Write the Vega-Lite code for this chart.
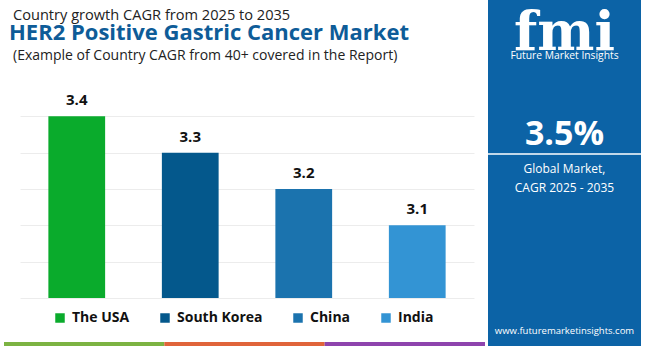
{
  "$schema": "https://vega.github.io/schema/vega-lite/v6.json",
  "padding": 0,
  "background": "white",
  "spacing": 2,
  "config": {"view": {"stroke": null}, "font": "Open Sans"},
  "hconcat": [
    {
      "spacing": 17,
      "resolve": {"scale": {"color": "independent", "x": "independent", "y": "independent"}, "legend": {"color": "independent"}},
      "vconcat": [
        {
          "width": 465,
          "height": 62,
          "data": {"values": [
            {"line": "l1", "label": "Country growth CAGR from 2025 to 2035"},
            {"line": "l2", "label": "HER2 Positive Gastric Cancer Market"},
            {"line": "l3", "label": "(Example of Country CAGR from 40+ covered in the Report)"}
          ]},
          "encoding": {
            "x": {"datum": 0, "type": "quantitative", "scale": {"domain": [0, 1]}, "axis": null},
            "y": {"field": "line", "type": "nominal", "axis": null, "scale": {"type": "point", "padding": 0, "domain": ["l1", "l2", "l3"], "range": [20, 59.5]}},
            "text": {"field": "label"}
          },
          "layer": [
            {"transform": [{"filter": "datum.line === 'l1'"}], "mark": {"type": "text", "align": "left", "baseline": "alphabetic", "dx": -7, "fontSize": 14.6, "color": "#222222"}},
            {"transform": [{"filter": "datum.line === 'l3'"}], "mark": {"type": "text", "align": "left", "baseline": "alphabetic", "dx": -7, "fontSize": 14, "color": "#222222"}},
            {"transform": [{"filter": "datum.line === 'l2'"}], "mark": {"type": "text", "align": "left", "baseline": "alphabetic", "dx": -11, "fontSize": 22, "fontWeight": "bold", "color": "#0e5c98"}}
          ]
        },
        {
          "width": 454,
          "height": 218,
          "data": {"values": [
            {"country": "The USA", "cagr": 3.4},
            {"country": "South Korea", "cagr": 3.3},
            {"country": "China", "cagr": 3.2},
            {"country": "India", "cagr": 3.1}
          ]},
          "encoding": {
            "x": {"field": "country", "type": "nominal", "sort": null, "axis": null, "scale": {"paddingInner": 0.5, "paddingOuter": 0.25}},
            "y": {"field": "cagr", "type": "quantitative", "scale": {"domain": [2.9, 3.5], "zero": false, "nice": false},
                  "axis": {"title": null, "labels": false, "ticks": false, "domain": false, "grid": true, "gridColor": "#ececec", "values": [2.9, 3.0, 3.1, 3.2, 3.3, 3.4], "minExtent": 20, "maxExtent": 20}}
          },
          "layer": [
            {
              "mark": {"type": "bar"},
              "encoding": {
                "y2": {"datum": 2.9},
                "color": {"field": "country", "type": "nominal", "sort": null,
                  "scale": {"domain": ["The USA", "South Korea", "China", "India"], "range": ["#0aab2c", "#04588c", "#1b73ae", "#3394d4"]},
                  "legend": {"orient": "none", "legendX": 33, "legendY": 231, "direction": "horizontal", "title": null, "symbolType": "square", "symbolSize": 90, "symbolStrokeWidth": 0, "labelFontSize": 14, "labelFontWeight": "bold", "labelColor": "#111111", "labelFont": "Open Sans", "columnPadding": 28, "labelOffset": 5}}
              }
            },
            {
              "mark": {"type": "text", "baseline": "bottom", "dy": -8, "fontSize": 15, "fontWeight": "bold", "color": "#111111"},
              "encoding": {"text": {"field": "cagr", "type": "quantitative", "format": ".1f"}}
            }
          ]
        },
        {
          "width": 465,
          "height": 4,
          "data": {"values": [{"segment": "a", "share": 1}, {"segment": "b", "share": 1}, {"segment": "c", "share": 1}]},
          "mark": {"type": "bar"},
          "encoding": {
            "x": {"field": "share", "type": "quantitative", "stack": "zero", "axis": null, "scale": {"nice": false, "range": [-16, 465]}},
            "y": {"datum": "stripe", "type": "nominal", "axis": null, "scale": {"paddingInner": 0, "paddingOuter": 0}},
            "color": {"field": "segment", "type": "nominal", "legend": null, "scale": {"domain": ["a", "b", "c"], "range": ["#7cb342", "#e0643a", "#8e44ad"]}}
          }
        }
      ]
    },
    {
      "width": 153,
      "height": 346,
      "view": {"fill": "#0c63a6", "stroke": null},
      "data": {"values": [
        {"item": "logo", "label": "fmi"},
        {"item": "brand", "label": "Future Market Insights"},
        {"item": "value", "label": "3.5%"},
        {"item": "g1", "label": "Global Market,"},
        {"item": "g2", "label": "CAGR 2025 - 2035"},
        {"item": "url", "label": "www.futuremarketinsights.com"}
      ]},
      "encoding": {
        "y": {"field": "item", "type": "nominal", "axis": null,
              "scale": {"type": "point", "padding": 0, "range": [50, 333.5],
                        "domain": ["logo", "brand", "p2", "p3", "p4", "p5", "p6", "p7", "p8", "p9", "value", "line", "p12", "g1", "p14", "g2", "p16", "p17", "p18", "p19", "p20", "p21", "p22", "p23", "p24", "p25", "p26", "p27", "p28", "p29", "url"]}},
        "text": {"field": "label"}
      },
      "layer": [
        {"transform": [{"filter": "datum.item === 'logo'"}], "mark": {"type": "text", "baseline": "alphabetic", "font": "DejaVu Serif", "fontWeight": "bold", "fontSize": 54, "color": "white"}},
        {"transform": [{"filter": "datum.item === 'value'"}], "mark": {"type": "text", "baseline": "alphabetic", "fontWeight": "bold", "fontSize": 34, "color": "white"}},
        {"transform": [{"filter": "datum.item === 'brand'"}], "mark": {"type": "text", "baseline": "alphabetic", "fontSize": 10.3, "color": "white"}},
        {"transform": [{"filter": "datum.item === 'url'"}], "mark": {"type": "text", "baseline": "alphabetic", "fontSize": 9.5, "color": "white"}},
        {"transform": [{"filter": "datum.item === 'g1' || datum.item === 'g2'"}], "mark": {"type": "text", "baseline": "alphabetic", "fontSize": 12, "color": "white"}},
        {"transform": [{"filter": "datum.item === 'value'"}], "mark": {"type": "rule", "color": "white", "strokeWidth": 1.5}, "encoding": {"y": {"datum": "line"}, "text": null}}
      ]
    }
  ]
}
